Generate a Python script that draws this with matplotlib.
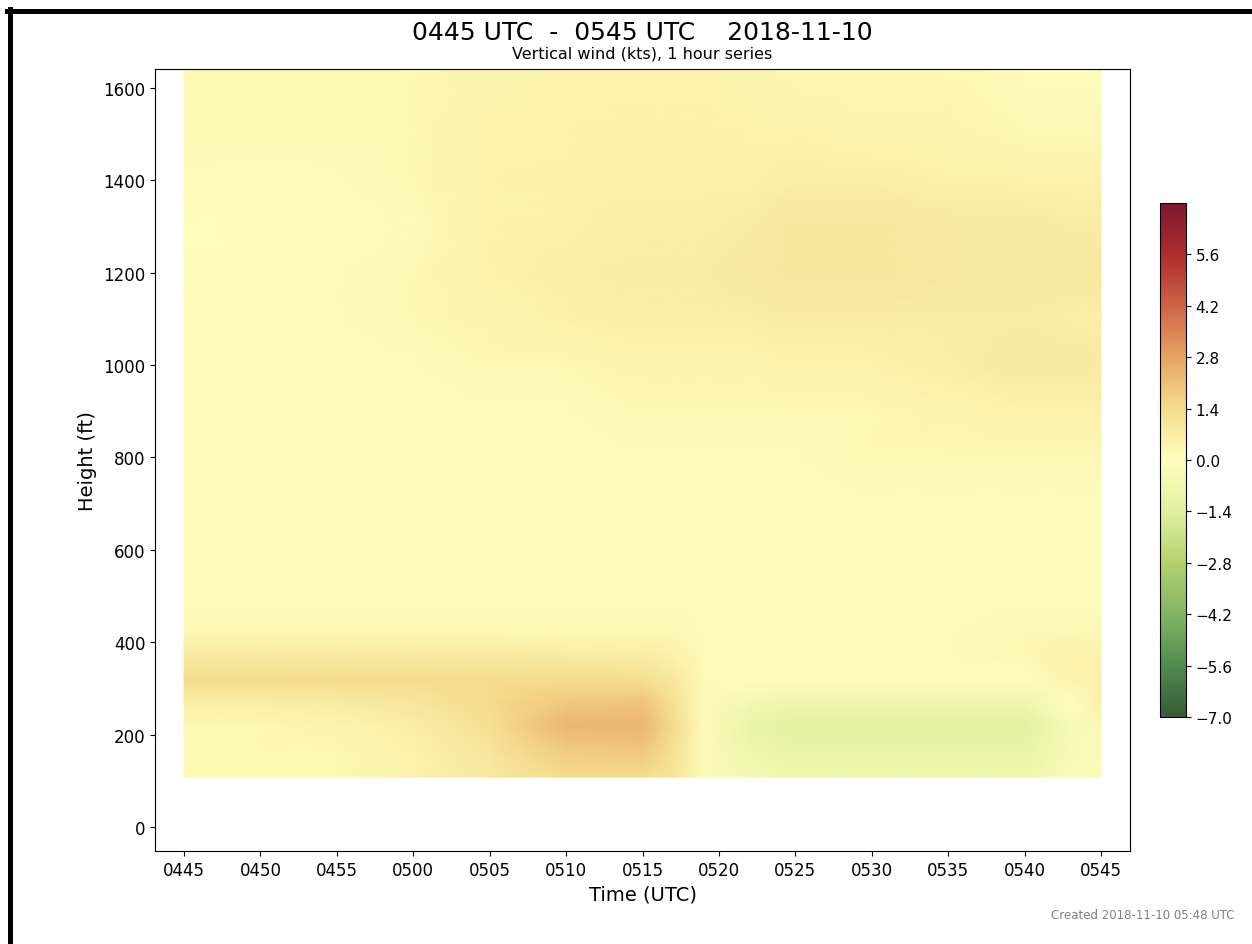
#!/usr/bin/env python3
"""Time-height plot of vertical wind (kts) over one hour."""

import numpy as np
import matplotlib
matplotlib.use("Agg")
import matplotlib.pyplot as plt
from matplotlib.lines import Line2D
from matplotlib.colors import LinearSegmentedColormap

# minutes after 0445 UTC
times = [0, 5, 10, 15, 20, 25, 30, 32, 34, 37, 40, 45, 50, 55, 58, 60]
# range gate heights (ft)
heights = [108, 160, 220, 270, 320, 370, 420, 500, 600, 700, 800, 900,
           1000, 1100, 1200, 1300, 1400, 1500, 1640]

# vertical wind (kts), one row per height
w_108 = [0.3, 0.3, 0.3, 0.5, 0.9, 1.4, 1.4, 1.0, 0.2, -0.6, -0.8, -0.8, -0.8, -0.8, -0.3, 0.2]
w_160 = [0.3, 0.3, 0.3, 0.5, 1.0, 1.8, 1.9, 1.2, 0.2, -0.8, -1.0, -1.0, -1.0, -1.0, -0.4, 0.2]
w_220 = [0.3, 0.3, 0.4, 0.7, 1.3, 2.3, 2.4, 1.4, 0.2, -1.0, -1.3, -1.3, -1.3, -1.3, -0.4, 0.3]
w_270 = [0.7, 0.7, 0.8, 1.0, 1.4, 1.9, 2.0, 1.2, 0.2, -0.6, -0.8, -0.8, -0.8, -0.8, -0.1, 0.5]
w_320 = [1.4, 1.4, 1.4, 1.4, 1.4, 1.4, 1.3, 0.9, 0.2, 0.0, 0.0, 0.0, 0.0, 0.1, 0.4, 0.6]
w_370 = [0.9, 0.9, 0.9, 0.9, 0.9, 0.8, 0.8, 0.5, 0.2, 0.2, 0.2, 0.2, 0.2, 0.3, 0.5, 0.5]
w_420 = [0.3, 0.3, 0.3, 0.3, 0.3, 0.3, 0.3, 0.3, 0.2, 0.2, 0.2, 0.2, 0.2, 0.3, 0.3, 0.3]
w_500 = [0.2, 0.2, 0.2, 0.2, 0.2, 0.2, 0.2, 0.2, 0.2, 0.2, 0.2, 0.2, 0.2, 0.2, 0.2, 0.2]
w_600 = [0.2, 0.2, 0.2, 0.2, 0.2, 0.2, 0.2, 0.2, 0.2, 0.2, 0.2, 0.2, 0.2, 0.2, 0.2, 0.2]
w_700 = [0.2, 0.2, 0.2, 0.2, 0.2, 0.2, 0.2, 0.2, 0.2, 0.2, 0.2, 0.2, 0.2, 0.2, 0.2, 0.2]
w_800 = [0.2, 0.2, 0.2, 0.2, 0.2, 0.2, 0.2, 0.2, 0.2, 0.2, 0.2, 0.3, 0.3, 0.3, 0.3, 0.3]
w_900 = [0.2, 0.2, 0.2, 0.2, 0.2, 0.2, 0.3, 0.3, 0.3, 0.3, 0.3, 0.3, 0.4, 0.5, 0.5, 0.5]
w_1000 = [0.2, 0.2, 0.2, 0.2, 0.3, 0.3, 0.4, 0.4, 0.4, 0.4, 0.5, 0.5, 0.7, 0.9, 0.9, 0.8]
w_1100 = [0.2, 0.2, 0.2, 0.3, 0.4, 0.6, 0.7, 0.7, 0.7, 0.7, 0.8, 0.8, 0.8, 0.8, 0.7, 0.7]
w_1200 = [0.1, 0.1, 0.2, 0.3, 0.5, 0.7, 0.8, 0.8, 0.8, 0.9, 1.0, 1.0, 0.9, 0.9, 0.9, 0.9]
w_1300 = [0.0, -0.1, -0.1, 0.2, 0.5, 0.6, 0.7, 0.7, 0.7, 0.8, 1.0, 1.0, 0.9, 0.9, 0.8, 0.8]
w_1400 = [0.2, 0.1, 0.2, 0.3, 0.5, 0.6, 0.6, 0.6, 0.6, 0.6, 0.7, 0.7, 0.6, 0.5, 0.5, 0.5]
w_1500 = [0.3, 0.3, 0.3, 0.3, 0.5, 0.5, 0.6, 0.6, 0.6, 0.5, 0.5, 0.4, 0.4, 0.3, 0.3, 0.3]
w_1640 = [0.3, 0.3, 0.3, 0.3, 0.4, 0.5, 0.5, 0.5, 0.5, 0.4, 0.3, 0.3, 0.3, 0.2, 0.2, 0.2]

time_ticks = list(range(0, 61, 5))
time_labels = ["0445", "0450", "0455", "0500", "0505", "0510", "0515",
               "0520", "0525", "0530", "0535", "0540", "0545"]
cbar_ticks = [-7.0, -5.6, -4.2, -2.8, -1.4, 0.0, 1.4, 2.8, 4.2, 5.6]

W = np.array([w_108, w_160, w_220, w_270, w_320, w_370, w_420, w_500, w_600,
              w_700, w_800, w_900, w_1000, w_1100, w_1200, w_1300, w_1400,
              w_1500, w_1640])

# muted red-yellow-green map, as in the original colourbar
cmap = LinearSegmentedColormap.from_list("wind", [
    "#375a37", "#508c50", "#82b464", "#b4d26e", "#e1f0a0", "#fefebe",
    "#f5dc8c", "#e6a564", "#cd6446", "#af2d2d", "#7d192d"])

fig = plt.figure(figsize=(12.52, 9.45), dpi=100)
ax = fig.add_axes([0.1238, 0.0984, 0.7788, 0.8275])
cax = fig.add_axes([0.9265, 0.2402, 0.0208, 0.5439])

mesh = ax.pcolormesh(times, heights, W, shading="gouraud", cmap=cmap,
                     vmin=-7, vmax=7)
ax.set_xlim(-1.9, 61.9)
ax.set_ylim(-52, 1641)
ax.set_xticks(time_ticks)
ax.set_xticklabels(time_labels)
ax.set_yticks(range(0, 1601, 200))
ax.tick_params(labelsize=12)
ax.set_xlabel("Time (UTC)", fontsize=14)
ax.set_ylabel("Height (ft)", fontsize=14)

cb = fig.colorbar(mesh, cax=cax, ticks=cbar_ticks)
cb.ax.tick_params(labelsize=11)

fig.text(0.513, 0.965, "0445 UTC  -  0545 UTC    2018-11-10", ha="center",
         va="center", fontsize=18)
fig.text(0.513, 0.943, "Vertical wind (kts), 1 hour series", ha="center",
         va="center", fontsize=11.5)
fig.text(0.986, 0.031, "Created 2018-11-10 05:48 UTC", ha="right",
         va="center", fontsize=8.5, color="gray")

# screenshot frame (top and left edges)
fig.add_artist(Line2D([7 / 1252, 1.0], [1 - 12 / 945, 1 - 12 / 945],
                      transform=fig.transFigure, color="black", lw=3.6))
fig.add_artist(Line2D([9.5 / 1252, 9.5 / 1252], [0.0, 1 - 10 / 945],
                      transform=fig.transFigure, color="black", lw=3.6))

fig.savefig("out.png", dpi=100)
